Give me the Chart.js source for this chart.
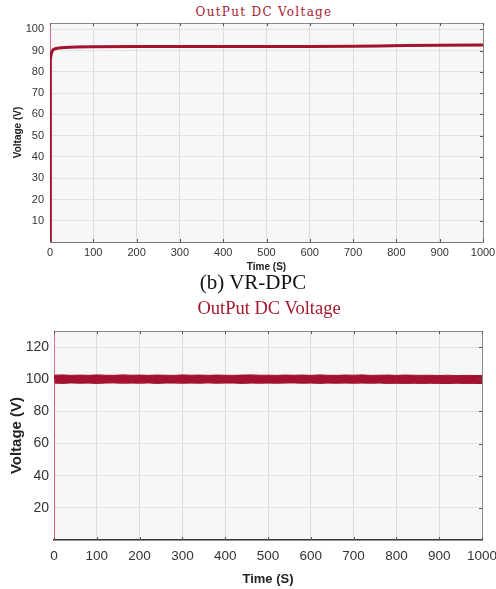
<!DOCTYPE html>
<html>
<head>
<meta charset="utf-8">
<script src="https://cdn.jsdelivr.net/npm/chart.js@4/dist/chart.umd.min.js"></script>
<style>
  html, body { margin: 0; padding: 0; background: #fff; }
  body { width: 496px; height: 589px; position: relative; overflow: hidden; }
  canvas { position: absolute; left: 0; }
  #c1 { top: 0; }
  #c2 { top: 295px; }
  .txt { position: absolute; white-space: nowrap; line-height: 1; transform: translateX(-50%); }
  #t1 { left: 264px; top: 6px; font-family: 'DejaVu Serif', serif; font-size: 12px; letter-spacing: 1.3px; color: #a3182f; }
  #cap { left: 253px; top: 272px; font-family: 'Liberation Serif', 'Times New Roman', serif; font-size: 21px; color: #111; }
  #t2 { left: 269px; top: 299px; font-family: 'Liberation Serif', 'Times New Roman', serif; font-size: 18.5px; color: #a3182f; }
</style>
</head>
<body>
<div class="txt" id="t1">OutPut DC Voltage</div>
<canvas id="c1" width="496" height="275"></canvas>
<div class="txt" id="cap">(b) VR-DPC</div>
<div class="txt" id="t2">OutPut DC Voltage</div>
<canvas id="c2" width="496" height="294"></canvas>
<script>
// datos
const xTicks = [0, 100, 200, 300, 400, 500, 600, 700, 800, 900, 1000];
const yTicksTop = [10, 20, 30, 40, 50, 60, 70, 80, 90, 100];
const yTicksBottom = [20, 40, 60, 80, 100, 120];

// grafico de arriba: arranque y luego casi plano
const timeTop = [0, 0.3, 0.8, 1.5, 3, 5, 8, 12, 20, 35, 60, 100, 200, 300, 400, 500, 600, 700, 760, 820, 900, 1000];
const voltTop = [0, 45, 78, 86, 88.5, 89.8, 90.5, 90.9, 91.2, 91.5, 91.7, 91.8, 91.9, 91.9, 92.0, 92.0, 92.0, 92.1, 92.2, 92.4, 92.5, 92.7];

// grafico de abajo: banda con ruido alrededor de 100 V
const timeBottom = [0, 20, 40, 60, 80, 100, 120, 140, 160, 180, 200, 220, 240, 260, 280, 300, 320, 340, 360, 380,
                    400, 420, 440, 460, 480, 500, 520, 540, 560, 580, 600, 620, 640, 660, 680, 700, 720, 740, 760, 780,
                    800, 820, 840, 860, 880, 900, 920, 940, 960, 980, 1000];
const voltUpper = [102.5, 102.7, 102.4, 102.6, 102.4, 102.7, 102.5, 102.4, 102.7, 102.5, 102.6, 102.4, 102.6, 102.5, 102.4, 102.7,
                   102.5, 102.6, 102.4, 102.6, 102.5, 102.4, 102.6, 102.7, 102.5, 102.5, 102.4, 102.6, 102.5, 102.6, 102.4, 102.7,
                   102.5, 102.4, 102.6, 102.5, 102.7, 102.4, 102.5, 102.6, 102.4, 102.6, 102.5, 102.4, 102.5, 102.3, 102.5, 102.3, 102.4, 102.3, 102.3];
const voltLower = [97.6, 97.4, 97.7, 97.5, 97.6, 97.4, 97.6, 97.7, 97.5, 97.6, 97.5, 97.7, 97.4, 97.6, 97.6, 97.5,
                   97.6, 97.5, 97.7, 97.5, 97.6, 97.6, 97.4, 97.6, 97.5, 97.6, 97.5, 97.6, 97.7, 97.5, 97.6, 97.4,
                   97.6, 97.5, 97.6, 97.5, 97.6, 97.5, 97.6, 97.4, 97.5, 97.4, 97.5, 97.4, 97.5, 97.4, 97.3, 97.5, 97.4, 97.4, 97.3];
const startTime = [0, 0];
const startVolt = [0, 100];

const rojo = '#a3122f';
const sans = "'Liberation Sans', Arial, sans-serif";

function puntos(xs, ys) {
    return xs.map((x, i) => ({ x: x, y: ys[i] }));
}

// fondo gris y marco con marcas hacia dentro (como matlab)
const marco = {
    id: 'marco',
    beforeDraw(chart) {
        const a = chart.chartArea;
        const ctx = chart.ctx;
        ctx.save();
        ctx.fillStyle = '#f7f7f7';
        ctx.fillRect(a.left, a.top, a.right - a.left, a.bottom - a.top);
        ctx.restore();
    },
    afterDraw(chart) {
        const a = chart.chartArea;
        const ctx = chart.ctx;
        ctx.save();
        ctx.strokeStyle = '#8a8a8a';
        ctx.lineWidth = 1;
        ctx.beginPath();
        ctx.moveTo(a.left, a.top + 0.5);
        ctx.lineTo(a.right + 0.5, a.top + 0.5);
        ctx.lineTo(a.right + 0.5, a.bottom);
        ctx.stroke();
        ctx.strokeStyle = '#555';
        ctx.beginPath();
        chart.scales.x.ticks.forEach(t => {
            const px = Math.round(chart.scales.x.getPixelForValue(t.value)) + 0.5;
            ctx.moveTo(px, a.top); ctx.lineTo(px, a.top + 3);
            ctx.moveTo(px, a.bottom); ctx.lineTo(px, a.bottom - 3);
        });
        chart.scales.y.ticks.forEach(t => {
            const py = Math.round(chart.scales.y.getPixelForValue(t.value)) + 0.5;
            ctx.moveTo(a.right, py); ctx.lineTo(a.right - 3, py);
        });
        ctx.stroke();
        ctx.restore();
    }
};

function opciones(cfg) {
    return {
        responsive: false,
        animation: false,
        layout: { padding: cfg.padding },
        plugins: { legend: { display: false }, tooltip: { enabled: false } },
        elements: { point: { radius: 0 }, line: { tension: 0 } },
        scales: {
            x: {
                type: 'linear',
                min: 0, max: 1000,
                afterBuildTicks: s => { s.ticks = xTicks.map(v => ({ value: v })); },
                afterFit: s => { s.height = cfg.xHeight; s.paddingLeft = 0; s.paddingRight = 0; },
                grid: { color: '#dcdcdc', drawTicks: false },
                border: { display: true, color: cfg.xBorder, width: cfg.xBorderWidth },
                ticks: { font: cfg.tickFont, color: '#333', padding: cfg.xPad, maxRotation: 0,
                         callback: v => String(v) },
                title: { display: true, text: 'Time (S)', font: cfg.xTitleFont, color: '#222',
                         padding: { top: 0, bottom: cfg.xTitlePad } }
            },
            y: {
                min: cfg.yMin, max: cfg.yMax,
                afterBuildTicks: s => { s.ticks = cfg.yTicks.map(v => ({ value: v })); },
                afterFit: s => { s.width = cfg.yWidth; s.paddingTop = 0; s.paddingBottom = 0; },
                grid: { color: '#e2e2e2', drawTicks: false },
                border: { display: true, color: '#d86c80', width: 1 },
                ticks: { font: cfg.yTickFont, color: '#333', padding: cfg.yPad, callback: v => String(v) },
                title: { display: true, text: 'Voltage (V)', font: cfg.yTitleFont, color: '#222',
                         padding: { top: cfg.yTitlePad, bottom: 0 } }
            }
        }
    };
}

new Chart(document.getElementById('c1'), {
    type: 'line',
    data: {
        datasets: [{
            data: puntos(timeTop, voltTop),
            borderColor: rojo,
            borderWidth: 3
        }]
    },
    options: opciones({
        padding: { left: 0, right: 13, top: 23, bottom: 0 },
        xHeight: 33, yWidth: 50,
        yMin: 0, yMax: 103, yTicks: yTicksTop,
        tickFont: { family: sans, size: 11 },
        yTickFont: { family: sans, size: 11 },
        xPad: 4, yPad: 6,
        xBorder: '#777', xBorderWidth: 1,
        xTitleFont: { family: sans, size: 10, weight: 'bold' }, xTitlePad: 2,
        yTitleFont: { family: sans, size: 10, weight: 'bold' }, yTitlePad: 12
    }),
    plugins: [marco]
});

new Chart(document.getElementById('c2'), {
    type: 'line',
    data: {
        datasets: [
            { data: puntos(startTime, startVolt), borderColor: '#d4596f', borderWidth: 1.5 },
            { data: puntos(timeBottom, voltUpper), borderColor: rojo, borderWidth: 1 },
            { data: puntos(timeBottom, voltLower), borderColor: rojo, borderWidth: 1,
              fill: '-1', backgroundColor: rojo }
        ]
    },
    options: opciones({
        padding: { left: 0, right: 14, top: 36, bottom: 0 },
        xHeight: 49, yWidth: 54,
        yMin: 0, yMax: 130, yTicks: yTicksBottom,
        tickFont: { family: sans, size: 13.5 },
        yTickFont: { family: sans, size: 14 },
        xPad: 8, yPad: 5,
        xBorder: '#333', xBorderWidth: 1.5,
        xTitleFont: { family: sans, size: 13, weight: 'bold' }, xTitlePad: 2,
        yTitleFont: { family: sans, size: 15, weight: 'bold' }, yTitlePad: 8
    }),
    plugins: [marco]
});
</script>
</body>
</html>
